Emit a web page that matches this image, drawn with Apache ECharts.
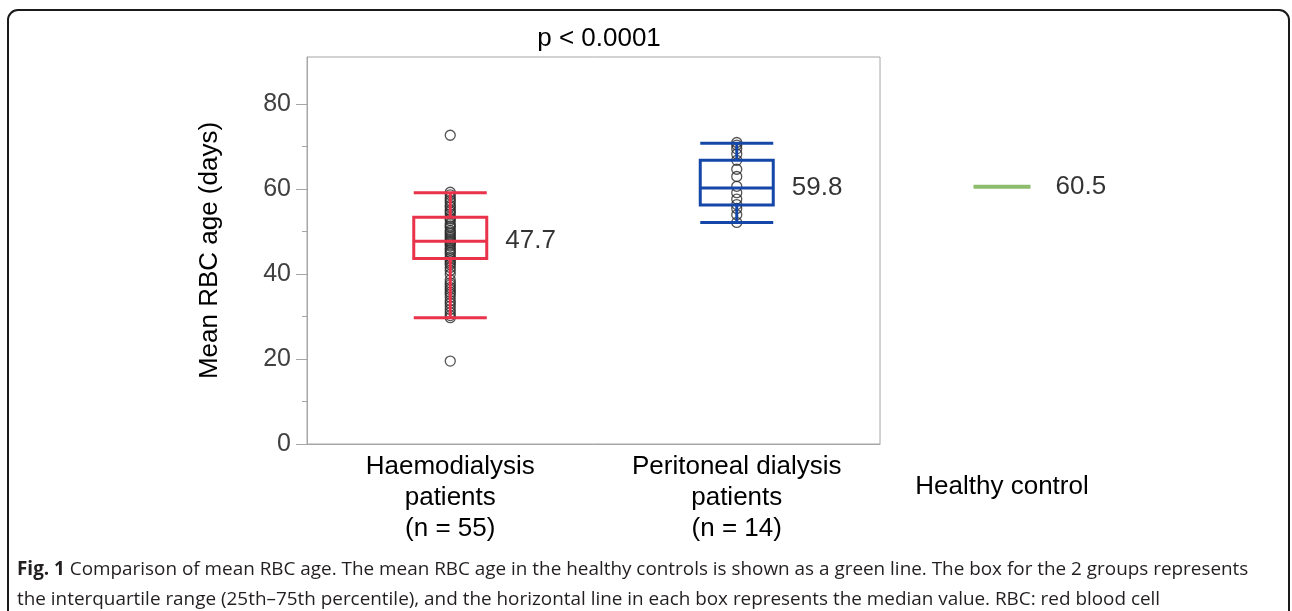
<!DOCTYPE html>
<html>
<head>
<meta charset="utf-8">
<script src="https://cdn.jsdelivr.net/npm/echarts@6/dist/echarts.min.js"></script>
<style>
  html, body { margin: 0; padding: 0; background: #fff; }
  #main { width: 1292px; height: 611px; }
</style>
</head>
<body>
<div id="main"></div>
<script>
// groups
var groups = ['Haemodialysis\npatients\n(n = 55)', 'Peritoneal dialysis\npatients\n(n = 14)'];
var controlName = ['Healthy control'];

// y ticks
var majorTicks = [0, 20, 40, 60, 80];
var minorTicks = [10, 30, 50, 70];

// individual values (days)
var hdValues = [72.6, 59.2, 58.6, 57.9, 57.3, 56.8, 56.1, 55.7, 55.0, 54.6, 54.1, 53.4, 53.0, 52.6,
    51.8, 51.3, 50.9, 50.2, 49.8, 49.4, 48.9, 48.5, 48.1, 47.7, 47.4, 47.0, 46.6, 46.0, 45.6,
    45.1, 44.7, 44.0, 43.6, 43.1, 42.6, 42.2, 41.5, 40.8, 39.9, 38.6, 37.9, 37.4, 36.8, 36.3,
    35.7, 35.2, 34.5, 33.7, 33.1, 32.4, 31.6, 30.9, 30.2, 29.7, 19.5];
var pdValues = [70.9, 70.3, 69.4, 68.2, 66.7, 64.6, 62.9, 60.6, 59.1, 57.6, 56.3, 55.4, 53.9, 52.1];

// box stats [low whisker, Q1, median, Q3, high whisker]
var hdBox = [29.7, 43.6, 47.7, 53.3, 59.1];
var pdBox = [52.1, 56.2, 60.2, 66.7, 70.7];
var medianLabels = ['47.7', '59.8'];

var controlMean = 60.5;
var pText = 'p < 0.0001';

var chart = echarts.init(document.getElementById('main'));

var pts = [];
hdValues.forEach(function (v) { pts.push([0, v]); });
pdValues.forEach(function (v) { pts.push([1, v]); });

var labelPts = [
    { value: [0, hdBox[2]], label: { formatter: medianLabels[0] } },
    { value: [1, pdBox[2]], label: { formatter: medianLabels[1] } }
];

var font = "'Liberation Sans', Arial, sans-serif";
var capFont = "'Liberation Sans Narrow', 'Open Sans', sans-serif";

chart.setOption({
    backgroundColor: '#fff',
    animation: false,
    title: {
        text: pText,
        left: 594,
        textAlign: 'center',
        top: 21,
        textStyle: { fontFamily: font, fontSize: 26, fontWeight: 'normal', color: '#000' }
    },
    grid: [
        { left: 307, right: 412, top: 57, bottom: 167, show: true, borderColor: '#a6a6a6', borderWidth: 1 },
        { left: 880, width: 244, top: 57, bottom: 167 }
    ],
    xAxis: [
        {
            type: 'category', gridIndex: 0, data: groups, boundaryGap: true,
            axisLine: { lineStyle: { color: '#a6a6a6' } },
            axisTick: { show: false },
            axisLabel: { fontFamily: font, fontSize: 26, color: '#000', lineHeight: 31, margin: 7, interval: 0 }
        },
        {
            type: 'category', gridIndex: 1, data: controlName,
            axisLine: { show: false }, axisTick: { show: false },
            axisLabel: { fontFamily: font, fontSize: 26, color: '#000', margin: 30 }
        }
    ],
    yAxis: [
        {
            type: 'value', gridIndex: 0, min: 0, max: 91,
            name: 'Mean RBC age (days)', nameLocation: 'middle', nameGap: 84,
            nameTextStyle: { fontFamily: font, fontSize: 26, color: '#000' },
            axisLine: { show: true, lineStyle: { color: '#a6a6a6' } },
            axisTick: { show: true, length: 11, customValues: majorTicks, lineStyle: { color: '#a6a6a6' } },
            splitLine: { show: false },
            axisLabel: { fontFamily: font, fontSize: 25, color: '#404040', margin: 16, customValues: majorTicks }
        },
        {
            // minor ticks only
            type: 'value', gridIndex: 0, min: 0, max: 91, position: 'left',
            axisLine: { show: false },
            axisTick: { show: true, length: 5, customValues: minorTicks, lineStyle: { color: '#a6a6a6' } },
            axisLabel: { show: false },
            splitLine: { show: false }
        },
        {
            type: 'value', gridIndex: 1, min: 0, max: 91,
            show: false
        }
    ],
    graphic: [
        {
            type: 'rect', silent: true,
            shape: { x: 8, y: 10, width: 1281, height: 700, r: 10 },
            style: { fill: 'none', stroke: '#1a1a1a', lineWidth: 2 }
        },
        {
            type: 'text', left: 17, top: 555,
            style: {
                text: '{b|Fig. 1} Comparison of mean RBC age. The mean RBC age in the healthy controls is shown as a green line. The box for the 2 groups represents\nthe interquartile range (25th\u201375th percentile), and the horizontal line in each box represents the median value. RBC: red blood cell',
                font: '18.9px ' + capFont,
                fill: '#231f20',
                lineHeight: 30,
                rich: {
                    b: { fontWeight: 'bold', fontSize: 18.9, fontFamily: capFont, fill: '#231f20' }
                }
            }
        }
    ],
    series: [
        {
            name: 'points', type: 'scatter', xAxisIndex: 0, yAxisIndex: 0,
            data: pts, symbol: 'circle', symbolSize: 10, z: 2,
            itemStyle: { color: 'rgba(0,0,0,0)', borderColor: '#2b2b2b', borderWidth: 1.3 }
        },
        {
            name: 'box', type: 'boxplot', xAxisIndex: 0, yAxisIndex: 0, z: 3,
            boxWidth: [73, 73],
            data: [
                { value: hdBox, itemStyle: { color: 'rgba(0,0,0,0)', borderColor: '#e8334a', borderWidth: 3 } },
                { value: pdBox, itemStyle: { color: 'rgba(0,0,0,0)', borderColor: '#1447a8', borderWidth: 3 } }
            ]
        },
        {
            name: 'medians', type: 'scatter', xAxisIndex: 0, yAxisIndex: 0, z: 4,
            data: labelPts, symbolSize: 0,
            label: { show: true, position: 'right', distance: 55, fontFamily: font, fontSize: 26, color: '#000' }
        },
        {
            name: 'control', type: 'scatter', xAxisIndex: 1, yAxisIndex: 2, z: 4,
            data: [[0, controlMean]], symbol: 'rect', symbolSize: [57, 4],
            itemStyle: { color: '#70ad47' },
            label: { show: true, position: 'right', distance: 25, fontFamily: font, fontSize: 26, color: '#000',
                formatter: function (p) { return p.value[1].toFixed(1); } }
        }
    ]
});
</script>
</body>
</html>
